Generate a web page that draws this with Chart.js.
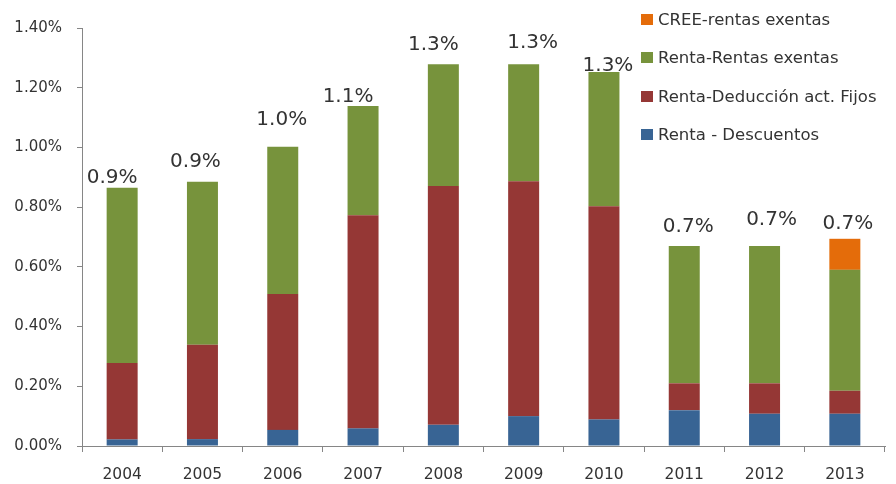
<!DOCTYPE html>
<html>
<head>
<meta charset="utf-8">
<script src="https://cdn.jsdelivr.net/npm/chart.js@4"></script>
<style>
  html, body { margin: 0; padding: 0; background: #ffffff; }
  #wrap { position: relative; width: 896px; height: 484px; }
  #legend { position: absolute; left: 641px; top: 0px; font-family: "DejaVu Sans", sans-serif; font-size: 16.5px; color: #333333; }
  #legend .row { height: 38.5px; display: flex; align-items: center; white-space: nowrap; }
  #legend .sw { width: 12px; height: 11px; margin-right: 5px; flex: none; }
</style>
</head>
<body>
<div id="wrap">
  <canvas id="c" width="896" height="484"></canvas>
  <div id="legend"></div>
</div>
<script>
// ---- data (values in %) ----
const years = ['2004', '2005', '2006', '2007', '2008', '2009', '2010', '2011', '2012', '2013'];
const rentaDescuentos = [0.022, 0.023, 0.054, 0.059, 0.071, 0.100, 0.089, 0.120, 0.108, 0.108];
const rentaDeduccionActFijos = [0.256, 0.316, 0.455, 0.714, 0.800, 0.787, 0.714, 0.090, 0.102, 0.077];
const rentaRentasExentas = [0.587, 0.546, 0.493, 0.366, 0.408, 0.392, 0.450, 0.460, 0.460, 0.405];
const creeRentasExentas = [0, 0, 0, 0, 0, 0, 0, 0, 0, 0.104];
const totalLabels = ['0.9%', '0.9%', '1.0%', '1.1%', '1.3%', '1.3%', '1.3%', '0.7%', '0.7%', '0.7%'];
const seriesNames = ['Renta - Descuentos', 'Renta-Deducción act. Fijos', 'Renta-Rentas exentas', 'CREE-rentas exentas'];
const yTicks = [0, 0.2, 0.4, 0.6, 0.8, 1.0, 1.2, 1.4];

const colors = ['#386494', '#953735', '#77933C', '#E46C0A'];
const axisColor = '#868686';
const textColor = '#333333';

const totalsPlugin = {
  id: 'totals',
  afterDatasetsDraw(chart, args, opts) {
    const ctx = chart.ctx;
    const topMeta = chart.getDatasetMeta(chart.data.datasets.length - 1);
    ctx.save();
    ctx.font = '20px "DejaVu Sans", sans-serif';
    ctx.fillStyle = textColor;
    ctx.textAlign = 'center';
    ctx.textBaseline = 'alphabetic';
    topMeta.data.forEach((el, i) => {
      const n = opts.nudge[i] || [0, 8];
      ctx.fillText(totalLabels[i], el.x + n[0], el.y - n[1]);
    });
    ctx.restore();
  }
};

const seriesData = [rentaDescuentos, rentaDeduccionActFijos, rentaRentasExentas, creeRentasExentas];

new Chart(document.getElementById('c'), {
  type: 'bar',
  data: {
    labels: years,
    datasets: seriesData.map((d, k) => ({
      label: seriesNames[k],
      data: d,
      backgroundColor: colors[k],
      borderWidth: 0,
      barPercentage: 0.386,
      categoryPercentage: 1.0
    }))
  },
  options: {
    responsive: false,
    animation: false,
    devicePixelRatio: 1,
    layout: { padding: { top: 28, right: 11, left: 0, bottom: 0 } },
    plugins: {
      legend: { display: false },
      tooltip: { enabled: false },
      totals: {
        nudge: [[-10, 5], [-7, 15], [-1, 22], [-15, 4], [-10, 14], [9, 16], [4, 1], [4, 14], [7, 21], [3, 10]]
      }
    },
    scales: {
      x: {
        stacked: true,
        offset: true,
        grid: { drawOnChartArea: false, drawTicks: true, tickLength: 6, color: axisColor, offset: true },
        border: { color: axisColor, width: 1 },
        ticks: { color: textColor, font: { family: 'DejaVu Sans', size: 15.5 }, padding: 14 },
        afterFit(scale) { scale.height = 38; }
      },
      y: {
        stacked: true,
        min: 0,
        max: 1.4,
        afterBuildTicks(scale) { scale.ticks = yTicks.map(v => ({ value: v })); },
        grid: { drawOnChartArea: false, drawTicks: true, tickLength: 5, color: axisColor },
        border: { color: axisColor, width: 1 },
        ticks: {
          color: textColor,
          font: { family: 'DejaVu Sans', size: 15 },
          padding: 15,
          callback: v => v.toFixed(2) + '%'
        },
        afterFit(scale) { scale.width = 82; }
      }
    }
  },
  plugins: [totalsPlugin]
});

// HTML legend (top-right, inside plot area), built from the series names
const legend = document.getElementById('legend');
for (let k = seriesNames.length - 1; k >= 0; k--) {
  const row = document.createElement('div');
  row.className = 'row';
  const sw = document.createElement('span');
  sw.className = 'sw';
  sw.style.background = colors[k];
  const tx = document.createElement('span');
  tx.textContent = seriesNames[k];
  row.appendChild(sw);
  row.appendChild(tx);
  legend.appendChild(row);
}
</script>
</body>
</html>
